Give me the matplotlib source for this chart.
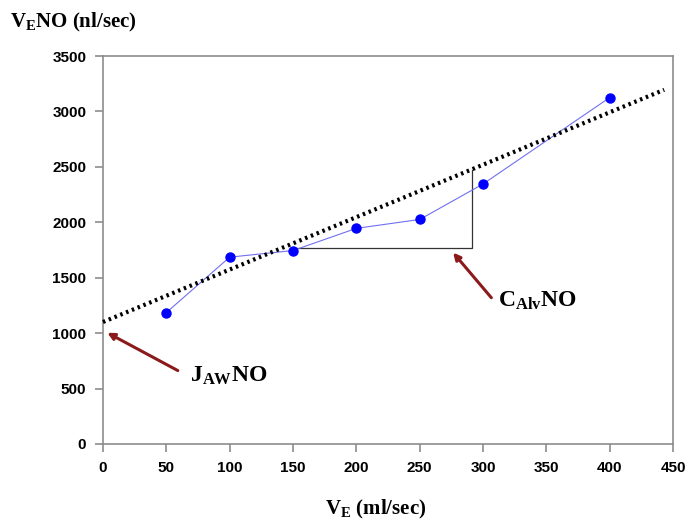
import matplotlib
matplotlib.use("Agg")
import matplotlib.pyplot as plt
import numpy as np

# flow (ml/sec) vs exhaled NO output (nl/sec)
flow = [50, 100, 150, 200, 250, 300, 400]
no_output = [1185, 1685, 1745, 1945, 2025, 2345, 3125]

# dotted linear model: intercept = J_AW NO, slope = C_Alv NO
intercept = 1100
slope = 4.73
fit_x = [0, 443]

# slope triangle corners
tri_x = [150, 291, 291]
tri_y = [1770, 1770, 2470]

x_ticks = list(range(0, 451, 50))
y_ticks = list(range(0, 3501, 500))

plt.rcParams["mathtext.fontset"] = "custom"
plt.rcParams["mathtext.rm"] = "Liberation Serif:bold"
plt.rcParams["mathtext.it"] = "Liberation Serif:bold"
plt.rcParams["mathtext.bf"] = "Liberation Serif:bold"

SERIF = "Liberation Serif"
SANS = "Liberation Sans"
ARROW = "#8B1A1A"
GRAY = "#8C8C8C"

fig = plt.figure(figsize=(6.91, 5.31), dpi=100)
ax = fig.add_axes([0.149, 0.164, 0.825, 0.7305])

ax.plot(flow, no_output, color="#7070F0", lw=0.8, zorder=2)
ax.plot(flow, no_output, "o", color="#0000FF", ms=6.5, zorder=3)

fx = np.array(fit_x)
ax.plot(fx, intercept + slope * fx, color="black", lw=3, ls=(0, (0.6, 0.9)),
        zorder=4, clip_on=False)

ax.plot(tri_x, tri_y, color="#333333", lw=0.9, zorder=1)

ax.annotate("", xy=(1.5, 1015), xytext=(61, 650),
            arrowprops=dict(arrowstyle="-|>", color=ARROW, lw=2.2, mutation_scale=10),
            annotation_clip=False)
ax.text(69, 615, r"J$_{\mathrm{AW}}$NO", fontsize=17, family=SERIF,
        fontweight="bold", ha="left", va="center")

ax.annotate("", xy=(275, 1745), xytext=(308, 1300),
            arrowprops=dict(arrowstyle="-|>", color=ARROW, lw=2.2, mutation_scale=10))
ax.text(312, 1290, r"C$_{\mathrm{Alv}}$NO", fontsize=17, family=SERIF,
        fontweight="bold", ha="left", va="center")

ax.set_xlim(0, 450)
ax.set_ylim(0, 3500)
ax.set_xticks(x_ticks)
ax.set_yticks(y_ticks)
for lab in ax.get_xticklabels() + ax.get_yticklabels():
    lab.set_fontfamily(SANS)
    lab.set_fontweight("bold")
    lab.set_fontsize(11)

for side in ["top", "right", "left", "bottom"]:
    ax.spines[side].set_color(GRAY)
    ax.spines[side].set_linewidth(1.2)
ax.tick_params(direction="out", length=6, width=1.2, color=GRAY, pad=6)

fig.text(0.015, 0.958, r"V$_{\mathrm{E}}$NO (nl/sec)", fontsize=15, family=SERIF,
         fontweight="bold", ha="left", va="center")
fig.text(0.543, 0.04, r"V$_{\mathrm{E}}$ (ml/sec)", fontsize=15, family=SERIF,
         fontweight="bold", ha="center", va="center")

fig.savefig("out.png", dpi=100, facecolor="white")
